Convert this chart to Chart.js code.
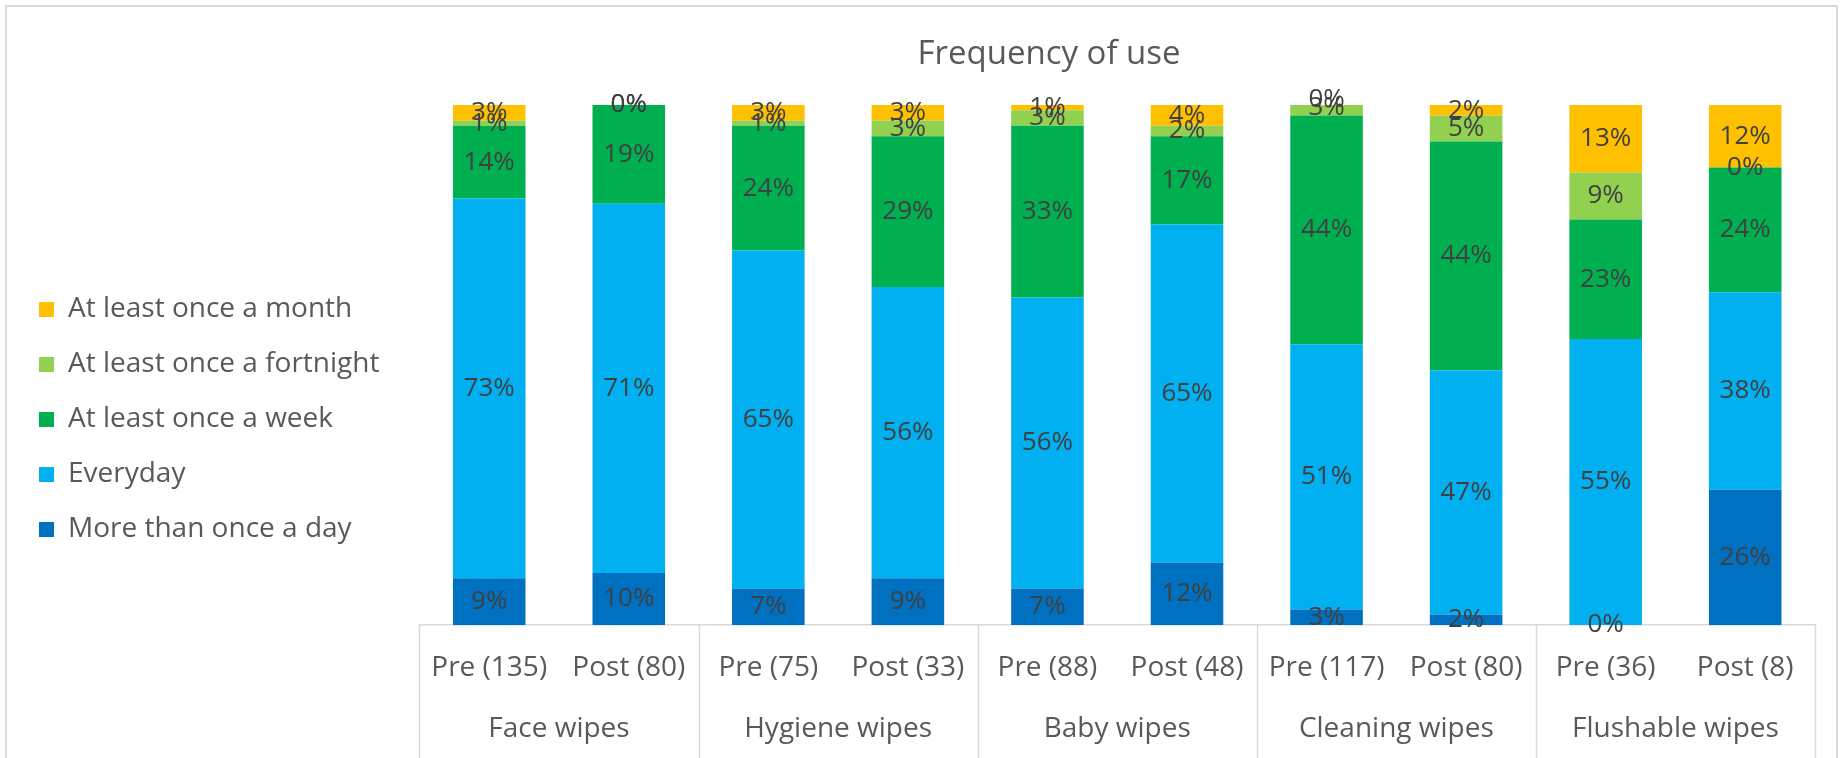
<!DOCTYPE html>
<html>
<head>
<meta charset="utf-8">
<title>Frequency of use</title>
<script src="https://cdn.jsdelivr.net/npm/chart.js@4"></script>
<style>
  html, body { margin: 0; padding: 0; background: #fff; }
  #wrap { width: 1843px; height: 758px; }
</style>
</head>
<body>
<div id="wrap"><canvas id="freqChart" width="1843" height="758"></canvas></div>
<script>
// categories
const subLabels = ["Pre (135)", "Post (80)", "Pre (75)", "Post (33)", "Pre (88)", "Post (48)", "Pre (117)", "Post (80)", "Pre (36)", "Post (8)"];
const groupLabels = ["Face wipes", "Hygiene wipes", "Baby wipes", "Cleaning wipes", "Flushable wipes"];

// series values (percent), bottom of the stack first
const moreThanOnceADay = [9, 10, 7, 9, 7, 12, 3, 2, 0, 26];
const everyday = [73, 71, 65, 56, 56, 65, 51, 47, 55, 38];
const onceAWeek = [14, 19, 24, 29, 33, 17, 44, 44, 23, 24];
const onceAFortnight = [1, 0, 1, 3, 3, 2, 3, 5, 9, 0];
const onceAMonth = [3, 0, 3, 3, 1, 4, 0, 2, 13, 12];

const FONT = "'Open Sans', 'Noto Sans', sans-serif";
const TEXT = "#595959";

// draws the light frame round the chart and the title
const framePlugin = {
  id: "frame",
  beforeDraw(chart) {
    const ctx = chart.ctx;
    ctx.save();
    ctx.fillStyle = "#fff";
    ctx.fillRect(0, 0, chart.width, chart.height);
    ctx.strokeStyle = "#d9d9d9";
    ctx.lineWidth = 2;
    ctx.strokeRect(6, 6, chart.width - 12, chart.height + 20);
    ctx.fillStyle = TEXT;
    ctx.font = "33px " + FONT;
    ctx.textAlign = "center";
    ctx.textBaseline = "middle";
    ctx.fillText("Frequency of use", 1049, 55);
    ctx.restore();
  }
};

// percent labels in the middle of every segment
const valueLabels = {
  id: "valueLabels",
  afterDatasetsDraw(chart) {
    const ctx = chart.ctx;
    ctx.save();
    ctx.fillStyle = "#404040";
    ctx.font = "26px " + FONT;
    ctx.textAlign = "center";
    ctx.textBaseline = "middle";
    chart.data.datasets.forEach((ds, i) => {
      const meta = chart.getDatasetMeta(i);
      meta.data.forEach((bar, j) => {
        const { x, y, base } = bar.getProps(["x", "y", "base"], true);
        ctx.fillText(ds.data[j] + "%", x, (y + base) / 2);
      });
    });
    ctx.restore();
  }
};

// second tier of the category axis: group names and separators
const groupAxis = {
  id: "groupAxis",
  afterDraw(chart) {
    const ctx = chart.ctx;
    const xs = chart.scales.x;
    const area = chart.chartArea;
    const slot = (xs.right - xs.left) / subLabels.length;
    ctx.save();
    ctx.strokeStyle = "#d9d9d9";
    ctx.lineWidth = 1.5;
    for (let g = 0; g <= groupLabels.length; g++) {
      const px = Math.round(xs.left + g * 2 * slot) + 0.5;
      ctx.beginPath();
      ctx.moveTo(px, area.bottom);
      ctx.lineTo(px, chart.height);
      ctx.stroke();
    }
    ctx.fillStyle = TEXT;
    ctx.font = "28px " + FONT;
    ctx.textAlign = "center";
    ctx.textBaseline = "middle";
    groupLabels.forEach((name, g) => {
      const cx = (xs.getPixelForValue(2 * g) + xs.getPixelForValue(2 * g + 1)) / 2;
      ctx.fillText(name, cx, area.bottom + 104);
    });
    ctx.restore();
  }
};

new Chart(document.getElementById("freqChart"), {
  type: "bar",
  data: {
    labels: subLabels,
    datasets: [
      { label: "More than once a day", data: moreThanOnceADay, backgroundColor: "#0070c0" },
      { label: "Everyday", data: everyday, backgroundColor: "#00b0f0" },
      { label: "At least once a week", data: onceAWeek, backgroundColor: "#00b050" },
      { label: "At least once a fortnight", data: onceAFortnight, backgroundColor: "#92d050" },
      { label: "At least once a month", data: onceAMonth, backgroundColor: "#ffc000" }
    ]
  },
  options: {
    responsive: false,
    animation: false,
    layout: { padding: { top: 105, bottom: 24, left: 12, right: 28 } },
    datasets: { bar: { barPercentage: 0.52, categoryPercentage: 1 } },
    scales: {
      x: {
        stacked: true,
        grid: { display: false, drawTicks: false },
        border: { display: true, color: "#d9d9d9", width: 1.5 },
        ticks: { color: TEXT, font: { family: FONT, size: 28 }, padding: 26, maxRotation: 0, autoSkip: false },
        afterFit: s => { s.height = 109; }
      },
      y: {
        stacked: true,
        min: 0,
        max: 100,
        ticks: { display: false },
        grid: { display: false },
        border: { display: false },
        afterFit: s => { s.width = 30; }
      }
    },
    plugins: {
      legend: {
        position: "left",
        reverse: true,
        labels: {
          boxWidth: 15,
          boxHeight: 15,
          padding: 27,
          color: TEXT,
          font: { family: FONT, size: 28 }
        }
      },
      tooltip: { enabled: false }
    }
  },
  plugins: [framePlugin, valueLabels, groupAxis]
});
</script>
</body>
</html>
